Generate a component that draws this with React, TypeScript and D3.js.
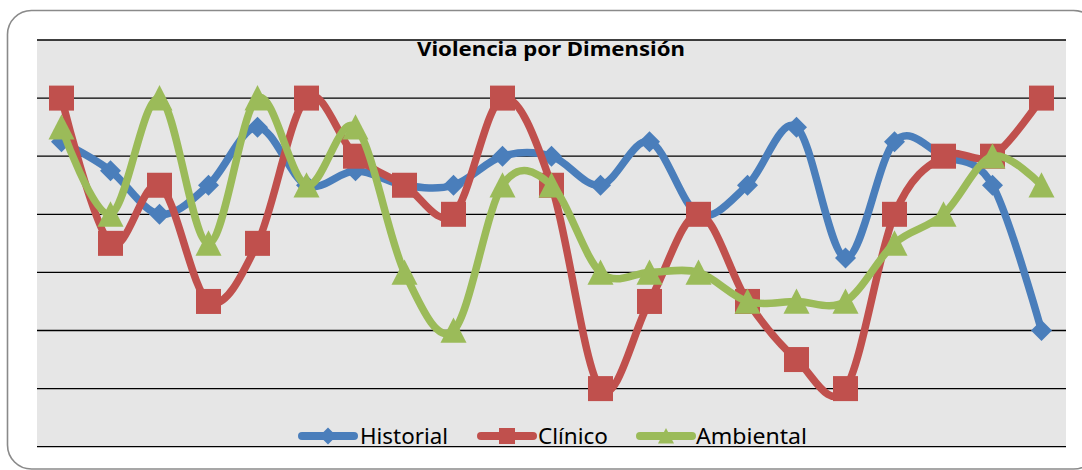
import React from "react";
import * as d3 from "d3";

const categories = ["1","2","3","4","5","6","7","8","9","10","11","12","13","14","15","16","17","18","19","20","21"];
const historial = [5.25, 4.75, 4, 4.5, 5.5, 4.5, 4.75, 4.5, 4.5, 5, 5, 4.5, 5.25, 4, 4.5, 5.5, 3.25, 5.25, 5, 4.5, 2];
const clinico = [6, 3.5, 4.5, 2.5, 3.5, 6, 5, 4.5, 4, 6, 4.5, 1, 2.5, 4, 2.5, 1.5, 1, 4, 5, 5, 6];
const ambiental = [5.5, 4, 6, 3.5, 6, 4.5, 5.5, 3, 2, 4.5, 4.5, 3, 3, 3, 2.5, 2.5, 2.5, 3.5, 4, 5, 4.5];
const gridTicks = [0, 1, 2, 3, 4, 5, 6, 7];
const seriesNames = ["Historial", "Clínico", "Ambiental"];
const title = "Violencia por Dimensión";

const W = 1082, H = 470;
const plot = { left: 37, right: 1066, top: 40, bottom: 446.7 };
const colors = ["#4A7EBB", "#C0504D", "#9BBB59"];
const markerTypes = ["diamond", "square", "triangle"];

function marker(type: string, cx: number, cy: number, s: number, color: string, key: string) {
  if (type === "square") {
    return <rect key={key} x={cx - s / 2} y={cy - s / 2} width={s} height={s} fill={color} />;
  }
  if (type === "diamond") {
    const r = s / 2;
    return <path key={key} d={`M${cx},${cy - r}L${cx + r},${cy}L${cx},${cy + r}L${cx - r},${cy}Z`} fill={color} />;
  }
  const r = s / 2;
  return <path key={key} d={`M${cx},${cy - r}L${cx + r},${cy + r * 0.95}L${cx - r},${cy + r * 0.95}Z`} fill={color} />;
}

export default function App() {
  const x = d3.scaleBand<string>().domain(categories).range([plot.left, plot.right]).paddingInner(0).paddingOuter(0);
  const cx = (i: number) => (x(categories[i]) as number) + x.bandwidth() / 2;
  const y = d3.scaleLinear().domain([0, 7]).range([plot.bottom, plot.top]);
  const line = d3.line<number>().x((_, i) => cx(i)).y((d) => y(d)).curve(d3.curveCardinal.tension(0));
  const data = [historial, clinico, ambiental];
  const markerSizes = [21, 25, 26];

  const legendItems = [
    { lx: 298, tx: 360, tw: 88 },
    { lx: 477, tx: 538, tw: 70 },
    { lx: 636, tx: 696, tw: 111 },
  ];

  return (
    <svg width={W} height={H} style={{ position: "absolute", left: 0, top: 0 }} fontFamily="'Noto Sans', 'Open Sans', sans-serif">
      <rect x={0} y={0} width={W} height={H} fill="#fff" />
      <rect x={7.5} y={10.5} width={1090} height={458.5} rx={24} ry={24} fill="#fff" stroke="#8a8a8a" strokeWidth={1.6} />
      <rect x={plot.left} y={plot.top} width={plot.right - plot.left} height={plot.bottom - plot.top} fill="#E6E6E6" />
      {gridTicks.map((t) => (
        <line key={t} x1={plot.left} x2={plot.right} y1={y(t)} y2={y(t)} stroke="#000" strokeWidth={1.3} />
      ))}
      <text x={551} y={55.5} textAnchor="middle" fontWeight="bold" fontSize={20} textLength={268} lengthAdjust="spacingAndGlyphs" fill="#000">{title}</text>
      {data.map((vals, si) => (
        <g key={si}>
          <path d={line(vals) || ""} fill="none" stroke={colors[si]} strokeWidth={7.5} strokeLinejoin="round" strokeLinecap="round" />
          {vals.map((v, i) => marker(markerTypes[si], cx(i), y(v), markerSizes[si], colors[si], `${si}-${i}`))}
        </g>
      ))}
      {legendItems.map((it, si) => (
        <g key={si}>
          <line x1={it.lx + 4} x2={it.lx + 56} y1={436} y2={436} stroke={colors[si]} strokeWidth={8} strokeLinecap="round" />
          {marker(markerTypes[si], it.lx + 30, 436, si === 0 ? 17 : 16, colors[si], `lg${si}`)}
          <text x={it.tx} y={444} fontSize={21.5} textLength={it.tw} lengthAdjust="spacingAndGlyphs" fill="#000">{seriesNames[si]}</text>
        </g>
      ))}
    </svg>
  );
}
